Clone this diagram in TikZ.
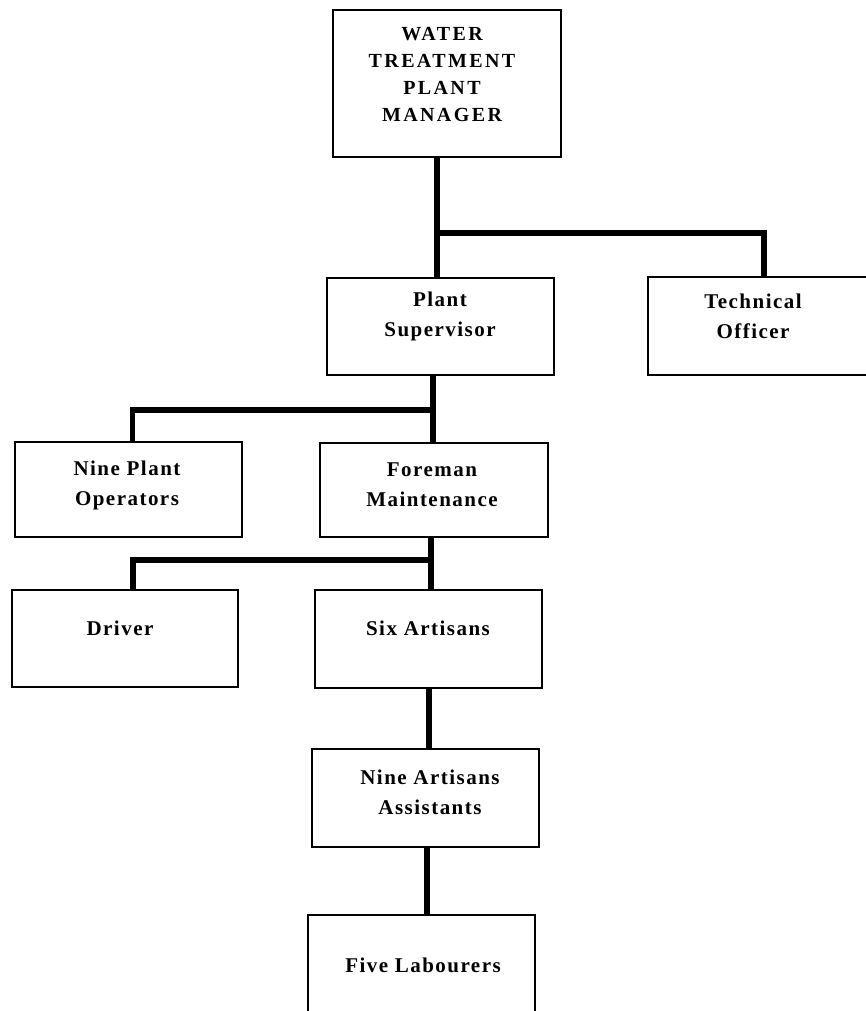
\documentclass[tikz,border=0pt]{standalone}
\usepackage{fontspec}
\setmainfont{Liberation Serif}
\newfontfamily\lab[LetterSpace=7]{Liberation Serif}
\newfontfamily\labcaps[LetterSpace=12]{Liberation Serif}
\begin{document}
\begin{tikzpicture}[x=1pt,y=-1pt,
  box/.style={draw=black,line width=2.8pt,rectangle,inner sep=0pt},
  lbl/.style={align=center,inner sep=0pt,font=\lab\bfseries\fontsize{21}{30}\selectfont},
  conn/.style={draw=black,line width=5.5pt,line join=miter}]
\useasboundingbox (0,0) rectangle (865,1011);
\fill[white] (0,0) rectangle (865,1011);
% boxes
\node[box,minimum width=228pt,minimum height=147pt] (manager) at (447,83.5) {};
\node[box,minimum width=227pt,minimum height=97pt] (supervisor) at (440.5,326.5) {};
\node[box,minimum width=250pt,minimum height=98pt] (tech) at (773,326) {};
\node[box,minimum width=227pt,minimum height=95pt] (operators) at (128.5,489.5) {};
\node[box,minimum width=228pt,minimum height=94pt] (foreman) at (434,490) {};
\node[box,minimum width=226pt,minimum height=97pt] (driver) at (125,638.5) {};
\node[box,minimum width=227pt,minimum height=98pt] (six) at (428.5,639) {};
\node[box,minimum width=227pt,minimum height=98pt] (assist) at (425.5,798) {};
\node[box,minimum width=227pt,minimum height=110pt] (labour) at (421.5,970) {};
% texts
\node[lbl,font=\labcaps\bfseries\fontsize{20}{27}\selectfont] (managerT) at (442,74) {WATER\\TREATMENT\\PLANT\\MANAGER};
\node[lbl] (supervisorT) at (440,316) {Plant\\Supervisor};
\node[lbl] (techT) at (753,316) {Technical\\Officer};
\node[lbl] (operatorsT) at (127,485) {Nine Plant\\Operators};
\node[lbl] (foremanT) at (432,485) {Foreman\\Maintenance};
\node[lbl] (driverT) at (120,628) {Driver};
\node[lbl] (sixT) at (428,628) {Six Artisans};
\node[lbl] (assistT) at (430,792) {Nine Artisans\\Assistants};
\node[lbl] (labourT) at (423,965) {Five Labourers};
% junctions
\coordinate (j1) at (437,233);
\coordinate (j2) at (433,410);
\coordinate (j3) at (431,560);
\coordinate (j4) at (429,700);
\coordinate (j5) at (427,880);
% connectors
\draw[conn] (manager.south -| j1) -- (supervisor.north -| j1);
\draw[conn] (j1) -| ([xshift=-9pt]tech.north);
\draw[conn] (supervisor.south -| j2) -- (foreman.north -| j2);
\draw[conn] (j2) -| ([xshift=4pt]operators.north);
\draw[conn] (foreman.south -| j3) -- (six.north -| j3);
\draw[conn] (j3) -| ([xshift=8pt]driver.north);
\draw[conn] (six.south -| j4) -- (assist.north -| j4);
\draw[conn] (assist.south -| j5) -- (labour.north -| j5);
\end{tikzpicture}
\end{document}
